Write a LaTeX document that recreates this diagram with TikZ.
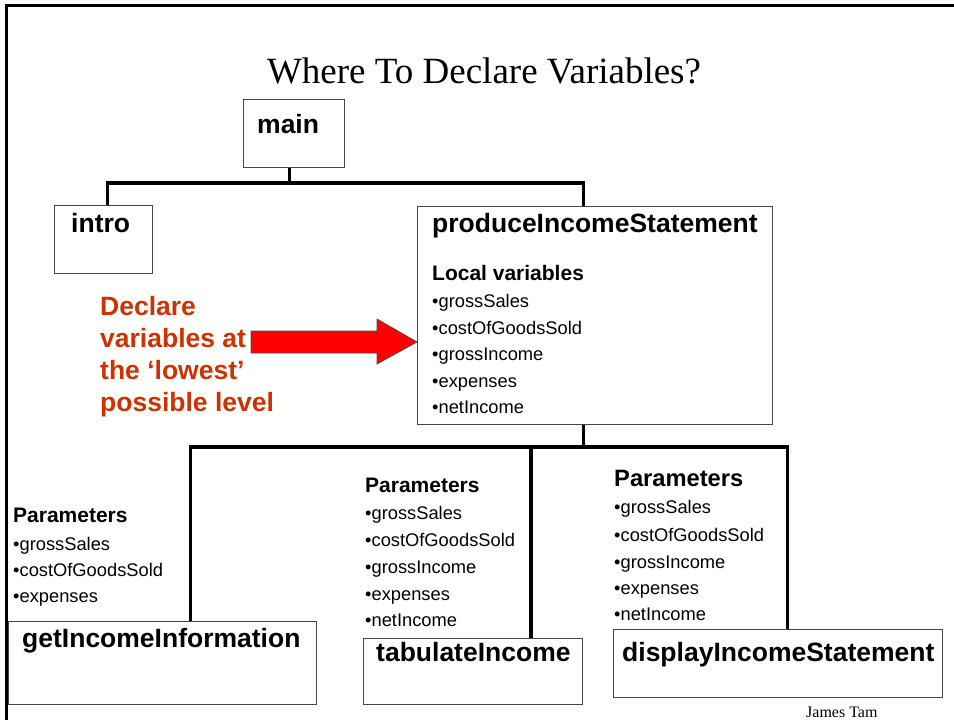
\documentclass[tikz,border=0pt]{standalone}
\usepackage{fontspec}
\setmainfont{Liberation Sans}
\newfontfamily\seriffont{Liberation Serif}
\usetikzlibrary{calc}
\definecolor{declred}{RGB}{204,51,0}
\definecolor{boxline}{RGB}{70,70,70}
\begin{document}
\begin{tikzpicture}[x=1pt,y=-1pt,
  box/.style={draw=boxline, line width=1.2pt, fill=white, inner sep=0pt, anchor=north west},
  conn/.style={line width=3.5pt, line join=miter, draw=black},
  lbl/.style={anchor=base west, inner sep=0pt},
  boxtitle/.style={lbl, font=\bfseries\fontsize{26.5}{30}\selectfont},
  head/.style={lbl, font=\bfseries\fontsize{21}{25}\selectfont},
  bighead/.style={lbl, font=\bfseries\fontsize{23.7}{28}\selectfont},
  item/.style={lbl, font=\fontsize{18.3}{22}\selectfont},
  redtxt/.style={lbl, text=declred, font=\bfseries\fontsize{26.5}{30}\selectfont}]
\useasboundingbox (0,0) rectangle (954,720);
% slide frame
\draw[line width=3pt] (954,5) -- (6,5) -- (6,720);
% title
\node[anchor=base, inner sep=0pt, font=\seriffont\fontsize{37}{44}\selectfont] (title) at (484,83) {Where To Declare Variables?};
% boxes
\node[box, minimum width=101pt, minimum height=68pt] (main) at (243,99) {};
\node[box, minimum width=98pt, minimum height=68pt] (intro) at (54,205) {};
\node[box, minimum width=355pt, minimum height=218pt] (prod) at (417,206) {};
\node[box, minimum width=308pt, minimum height=83pt] (getinc) at (8,621) {};
\node[box, minimum width=219pt, minimum height=66pt] (tab) at (363,638) {};
\node[box, minimum width=329pt, minimum height=68pt] (disp) at (613,629) {};
% connector attachment points
\coordinate (j1) at (0,183);
\coordinate (j2) at (0,447);
\coordinate (mdrop) at ($(main.south west)!0.455!(main.south east)$);
\coordinate (idrop) at ($(intro.north west)!0.54!(intro.north east)$);
\coordinate (pdrop) at ($(prod.north west)!0.468!(prod.north east)$);
\coordinate (psdrop) at ($(prod.south west)!0.468!(prod.south east)$);
\coordinate (gdrop) at ($(getinc.north west)!0.591!(getinc.north east)$);
\coordinate (tdrop) at ($(tab.north west)!0.763!(tab.north east)$);
\coordinate (ddrop) at ($(disp.north west)!0.529!(disp.north east)$);
% connectors
\draw[conn] (mdrop) -- (mdrop |- j1);
\draw[conn] (idrop) |- (pdrop |- j1) -- (pdrop);
\draw[conn] (psdrop) -- (psdrop |- j2);
\draw[conn] (gdrop) |- (ddrop |- j2) -- (ddrop);
\draw[conn] (tdrop) -- (tdrop |- j2);
% box titles
\node[boxtitle] (tmain) at (257,133) {main};
\node[boxtitle] (tintro) at (71,232) {intro};
\node[boxtitle] (tprod) at (432,232) {produceIncomeStatement};
\node[boxtitle] (tget) at (22,647) {getIncomeInformation};
\node[boxtitle] (ttab) at (376,661) {tabulateIncome};
\node[boxtitle] (tdisp) at (622,661) {displayIncomeStatement};
% local variables
\node[head] (lv) at (432,280) {Local variables};
\node[item] (lv1) at (432,307) {•grossSales};
\node[item] (lv2) at (432,334) {•costOfGoodsSold};
\node[item] (lv3) at (432,360) {•grossIncome};
\node[item] (lv4) at (432,387) {•expenses};
\node[item] (lv5) at (432,413) {•netIncome};
% left parameters
\node[head] (pa) at (13,522) {Parameters};
\node[item] (pa1) at (13,550) {•grossSales};
\node[item] (pa2) at (13,576) {•costOfGoodsSold};
\node[item] (pa3) at (13,602) {•expenses};
% middle parameters
\node[head] (pb) at (365,492) {Parameters};
\node[item] (pb1) at (365,519) {•grossSales};
\node[item] (pb2) at (365,546) {•costOfGoodsSold};
\node[item] (pb3) at (365,573) {•grossIncome};
\node[item] (pb4) at (365,600) {•expenses};
\node[item] (pb5) at (365,626) {•netIncome};
% right parameters
\node[bighead] (pc) at (614,486) {Parameters};
\node[item] (pc1) at (614,513) {•grossSales};
\node[item] (pc2) at (614,541) {•costOfGoodsSold};
\node[item] (pc3) at (614,568) {•grossIncome};
\node[item] (pc4) at (614,594) {•expenses};
\node[item] (pc5) at (614,620) {•netIncome};
% red note
\node[redtxt] (r1) at (100,315) {Declare};
\node[redtxt] (r2) at (100,347) {variables at};
\node[redtxt] (r3) at (100,379) {the ‘lowest’};
\node[redtxt] (r4) at (100,411) {possible level};
% red arrow
\coordinate (tip) at ($(prod.north west)+(0,136)$);
\draw[fill=red, draw=black!70, line width=0.8pt]
  ($(tip)+(-166,-11)$) -- ($(tip)+(-40,-11)$) -- ($(tip)+(-40,-23)$) -- (tip)
  -- ($(tip)+(-40,22)$) -- ($(tip)+(-40,11)$) -- ($(tip)+(-166,11)$) -- cycle;
% footer
\node[anchor=base west, inner sep=0pt, font=\seriffont\fontsize{16}{19}\selectfont] (author) at (806,717) {James Tam};
\end{tikzpicture}
\end{document}
